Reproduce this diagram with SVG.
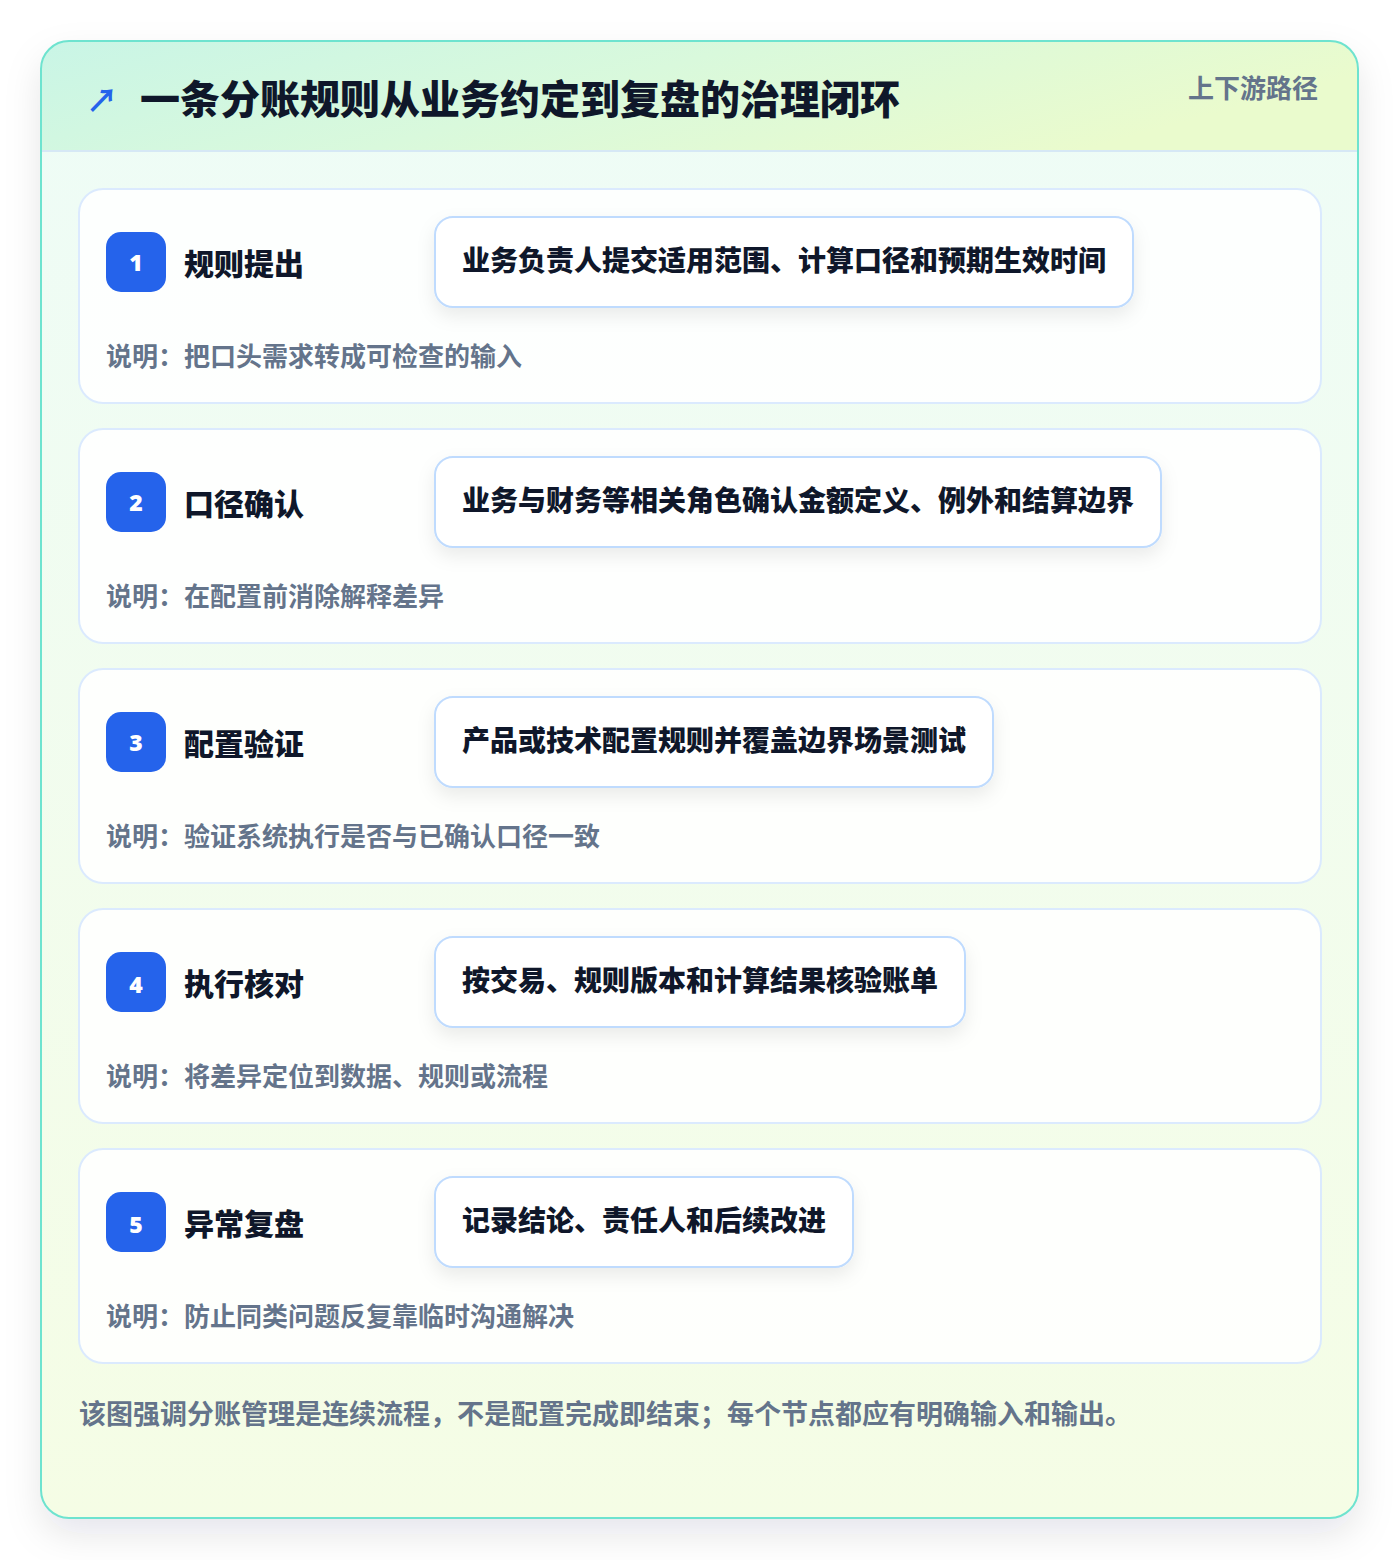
<svg xmlns="http://www.w3.org/2000/svg" width="1400" height="1560" viewBox="0 0 1400 1560">
<defs>
<linearGradient id="hdr" x1="0" y1="0" x2="1" y2="0.3">
<stop offset="0" stop-color="#c9f5e6"/>
<stop offset="0.5" stop-color="#d9f9dc"/>
<stop offset="1" stop-color="#eafbcd"/>
</linearGradient>
<linearGradient id="body" x1="0" y1="0" x2="0" y2="1">
<stop offset="0" stop-color="#eefcf7"/>
<stop offset="1" stop-color="#f5fde5"/>
</linearGradient>
<filter id="outerShadow" x="-10%" y="-10%" width="120%" height="125%">
<feDropShadow dx="0" dy="16" stdDeviation="18" flood-color="#0f172a" flood-opacity="0.10"/>
</filter>
<filter id="pillShadow" x="-10%" y="-30%" width="120%" height="180%">
<feDropShadow dx="0" dy="8" stdDeviation="9" flood-color="#0f172a" flood-opacity="0.08"/>
</filter>
<clipPath id="cardClip"><rect x="41" y="41" width="1317" height="1477" rx="28"/></clipPath>
</defs>
<style>
text{font-family:"Noto Sans CJK SC","Noto Sans",sans-serif;}
.title{font-size:40px;font-weight:900;fill:#0f172a;}
.tag{font-size:26px;font-weight:700;fill:#64748b;}
.card{fill:#ffffff;fill-opacity:0.88;stroke:#dbeafe;stroke-width:2;}
.badge{fill:#2563eb;}
.num{font-family:"Noto Sans","DejaVu Sans",sans-serif;font-size:23px;font-weight:900;fill:#ffffff;}
.label{font-size:30px;font-weight:900;fill:#0f172a;}
.pill{fill:#ffffff;stroke:#bfdbfe;stroke-width:2;}
.pilltext{font-size:28px;font-weight:900;fill:#0f172a;}
.desc{font-size:26px;font-weight:700;fill:#64748b;}
.foot{font-size:27px;font-weight:700;fill:#64748b;}
</style>
<rect width="1400" height="1560" fill="#ffffff"/>
<g id="frame">
<rect x="41" y="41" width="1317" height="1477" rx="28" fill="url(#body)" filter="url(#outerShadow)"/>
<g clip-path="url(#cardClip)">
<rect x="41" y="41" width="1317" height="110" fill="url(#hdr)"/>
<line x1="41" y1="151" x2="1358" y2="151" stroke="#d6e8f5" stroke-width="2"/>
</g>
<rect x="41" y="41" width="1317" height="1477" rx="28" fill="none" stroke="#6ee3cf" stroke-width="2"/>
</g>
<g id="header">
<text x="86" y="112" font-size="32" font-weight="700" fill="#2563eb" font-family="DejaVu Sans,sans-serif">↗</text>
<text class="title" x="140" y="114">一条分账规则从业务约定到复盘的治理闭环</text>
<text class="tag" x="1318" y="98" text-anchor="end">上下游路径</text>
</g>
<g id="connectors"></g>
<g id="step1">
<rect class="card" x="79" y="189" width="1242" height="214" rx="24"/>
<rect class="badge" x="106" y="232" width="60" height="60" rx="15"/>
<text class="num" x="136" y="271" text-anchor="middle">1</text>
<text class="label" x="184" y="275">规则提出</text>
<rect class="pill" x="435" y="217" width="698" height="90" rx="18" filter="url(#pillShadow)"/>
<text class="pilltext" x="462" y="271">业务负责人提交适用范围、计算口径和预期生效时间</text>
<text class="desc" x="106" y="366">说明：把口头需求转成可检查的输入</text>
</g>
<g id="step2">
<rect class="card" x="79" y="429" width="1242" height="214" rx="24"/>
<rect class="badge" x="106" y="472" width="60" height="60" rx="15"/>
<text class="num" x="136" y="511" text-anchor="middle">2</text>
<text class="label" x="184" y="515">口径确认</text>
<rect class="pill" x="435" y="457" width="726" height="90" rx="18" filter="url(#pillShadow)"/>
<text class="pilltext" x="462" y="511">业务与财务等相关角色确认金额定义、例外和结算边界</text>
<text class="desc" x="106" y="606">说明：在配置前消除解释差异</text>
</g>
<g id="step3">
<rect class="card" x="79" y="669" width="1242" height="214" rx="24"/>
<rect class="badge" x="106" y="712" width="60" height="60" rx="15"/>
<text class="num" x="136" y="751" text-anchor="middle">3</text>
<text class="label" x="184" y="755">配置验证</text>
<rect class="pill" x="435" y="697" width="558" height="90" rx="18" filter="url(#pillShadow)"/>
<text class="pilltext" x="462" y="751">产品或技术配置规则并覆盖边界场景测试</text>
<text class="desc" x="106" y="846">说明：验证系统执行是否与已确认口径一致</text>
</g>
<g id="step4">
<rect class="card" x="79" y="909" width="1242" height="214" rx="24"/>
<rect class="badge" x="106" y="952" width="60" height="60" rx="15"/>
<text class="num" x="136" y="993" text-anchor="middle">4</text>
<text class="label" x="184" y="995">执行核对</text>
<rect class="pill" x="435" y="937" width="530" height="90" rx="18" filter="url(#pillShadow)"/>
<text class="pilltext" x="462" y="991">按交易、规则版本和计算结果核验账单</text>
<text class="desc" x="106" y="1086">说明：将差异定位到数据、规则或流程</text>
</g>
<g id="step5">
<rect class="card" x="79" y="1149" width="1242" height="214" rx="24"/>
<rect class="badge" x="106" y="1192" width="60" height="60" rx="15"/>
<text class="num" x="136" y="1233" text-anchor="middle">5</text>
<text class="label" x="184" y="1235">异常复盘</text>
<rect class="pill" x="435" y="1177" width="418" height="90" rx="18" filter="url(#pillShadow)"/>
<text class="pilltext" x="462" y="1231">记录结论、责任人和后续改进</text>
<text class="desc" x="106" y="1326">说明：防止同类问题反复靠临时沟通解决</text>
</g>
<g id="footer">
<text class="foot" x="79" y="1424">该图强调分账管理是连续流程，不是配置完成即结束；每个节点都应有明确输入和输出。</text>
</g>
</svg>
